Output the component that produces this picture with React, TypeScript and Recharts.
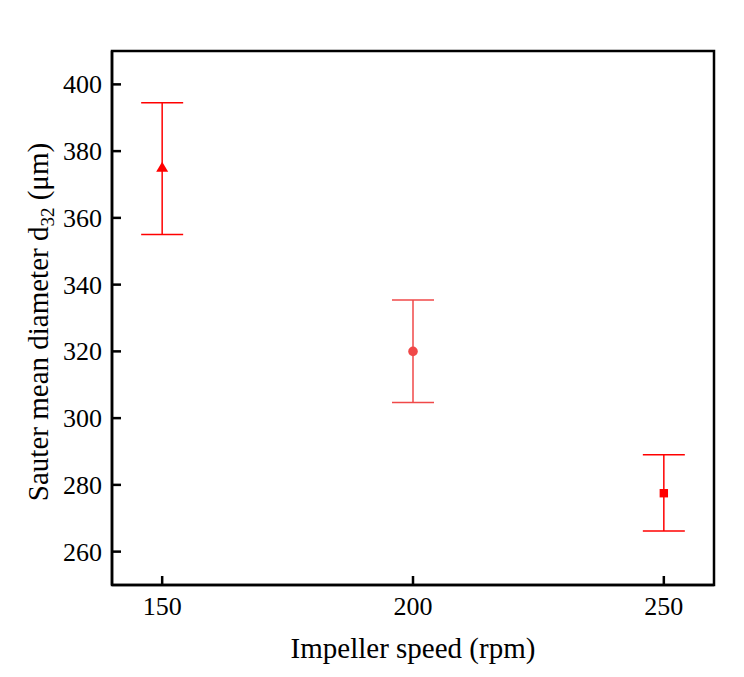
import { ScatterChart, Scatter, XAxis, YAxis, ErrorBar, ReferenceArea } from 'recharts'

const speeds = [150, 200, 250]
const diameters = [375, 320, 277.5]
const errLow = [20, 15.3, 11.3]
const errHigh = [19.5, 15.4, 11.5]
const xTicks = [150, 200, 250]
const yTicks = [260, 280, 300, 320, 340, 360, 380, 400]
const xDomain = [140, 260]
const yDomain = [250, 410]

const colors = ['#ff0000', '#f04848', '#ff0000']
const shapes = ['triangle', 'circle', 'square']

const series = speeds.map((s, i) => [{ x: s, y: diameters[i], err: [errLow[i], errHigh[i]] }])

// inward tick marks, placed on the axis edges through the chart scales
const yTickMarks = yTicks.map((v) => ({ x: xDomain[0], y: v }))
const xTickMarks = xTicks.map((v) => ({ x: v, y: yDomain[0] }))

const font = '"Liberation Serif", "Times New Roman", serif'

const Marker = ({ cx, cy, kind, color }: any) => {
  if (kind === 'triangle') {
    return <polygon points={`${cx},${cy - 6} ${cx - 6},${cy + 4} ${cx + 6},${cy + 4}`} fill={color} />
  }
  if (kind === 'circle') {
    return <circle cx={cx} cy={cy} r={4.8} fill={color} />
  }
  return <rect x={cx - 4.2} y={cy - 4.2} width={8.4} height={8.4} fill={color} />
}

const YTick = ({ x, y, payload }: any) => (
  <text x={x - 10} y={y + 9} textAnchor="end" fontFamily={font} fontSize={26} fill="#000">
    {payload.value}
  </text>
)

const XTick = ({ x, y, payload }: any) => (
  <text x={x} y={y + 30} textAnchor="middle" fontFamily={font} fontSize={26} fill="#000">
    {payload.value}
  </text>
)

export default function App() {
  return (
    <div style={{ background: '#fff', width: 728, height: 661 }}>
      <ScatterChart width={728} height={661} margin={{ top: 43, right: 22, bottom: 0, left: 0 }}>
        <XAxis
          type="number"
          dataKey="x"
          domain={xDomain}
          ticks={xTicks}
          tick={<XTick />}
          tickLine={false}
          tickSize={0}
          tickMargin={0}
          height={84}
          axisLine={{ stroke: '#000', strokeWidth: 2.5 }}
          label={() => (
            <text x={405} y={650} textAnchor="middle" fontFamily={font} fontSize={29} fill="#000">
              Impeller speed (rpm)
            </text>
          )}
        />
        <YAxis
          type="number"
          dataKey="y"
          domain={yDomain}
          ticks={yTicks}
          tick={<YTick />}
          tickLine={false}
          tickSize={0}
          tickMargin={0}
          width={104}
          axisLine={{ stroke: '#000', strokeWidth: 2.5 }}
          label={() => (
            <text
              x={40}
              y={314}
              transform="rotate(-90 40 314)"
              textAnchor="middle"
              fontFamily={font}
              fontSize={29}
              fill="#000"
            >
              Sauter mean diameter d
              <tspan fontSize={19} dy={6}>32</tspan>
              <tspan dy={-6}> (μm)</tspan>
            </text>
          )}
        />
        <ReferenceArea
          x1={xDomain[0]}
          x2={xDomain[1]}
          y1={yDomain[0]}
          y2={yDomain[1]}
          fill="none"
          fillOpacity={0}
          stroke="#000"
          strokeWidth={2.5}
          strokeOpacity={1}
          ifOverflow="visible"
        />
        <Scatter
          data={yTickMarks}
          isAnimationActive={false}
          fill="#000"
          shape={(p: any) => <rect x={p.cx} y={p.cy - 1.25} width={9} height={2.5} fill="#000" />}
        />
        <Scatter
          data={xTickMarks}
          isAnimationActive={false}
          fill="#000"
          shape={(p: any) => <rect x={p.cx - 1.25} y={p.cy - 9} width={2.5} height={9} fill="#000" />}
        />
        {series.map((d, i) => (
          <Scatter
            key={i}
            data={d}
            isAnimationActive={false}
            fill={colors[i]}
            shape={(p: any) => <Marker cx={p.cx} cy={p.cy} kind={shapes[i]} color={colors[i]} />}
          >
            <ErrorBar dataKey="err" direction="y" width={21} stroke={colors[i]} strokeWidth={1.5} />
          </Scatter>
        ))}
      </ScatterChart>
    </div>
  )
}
